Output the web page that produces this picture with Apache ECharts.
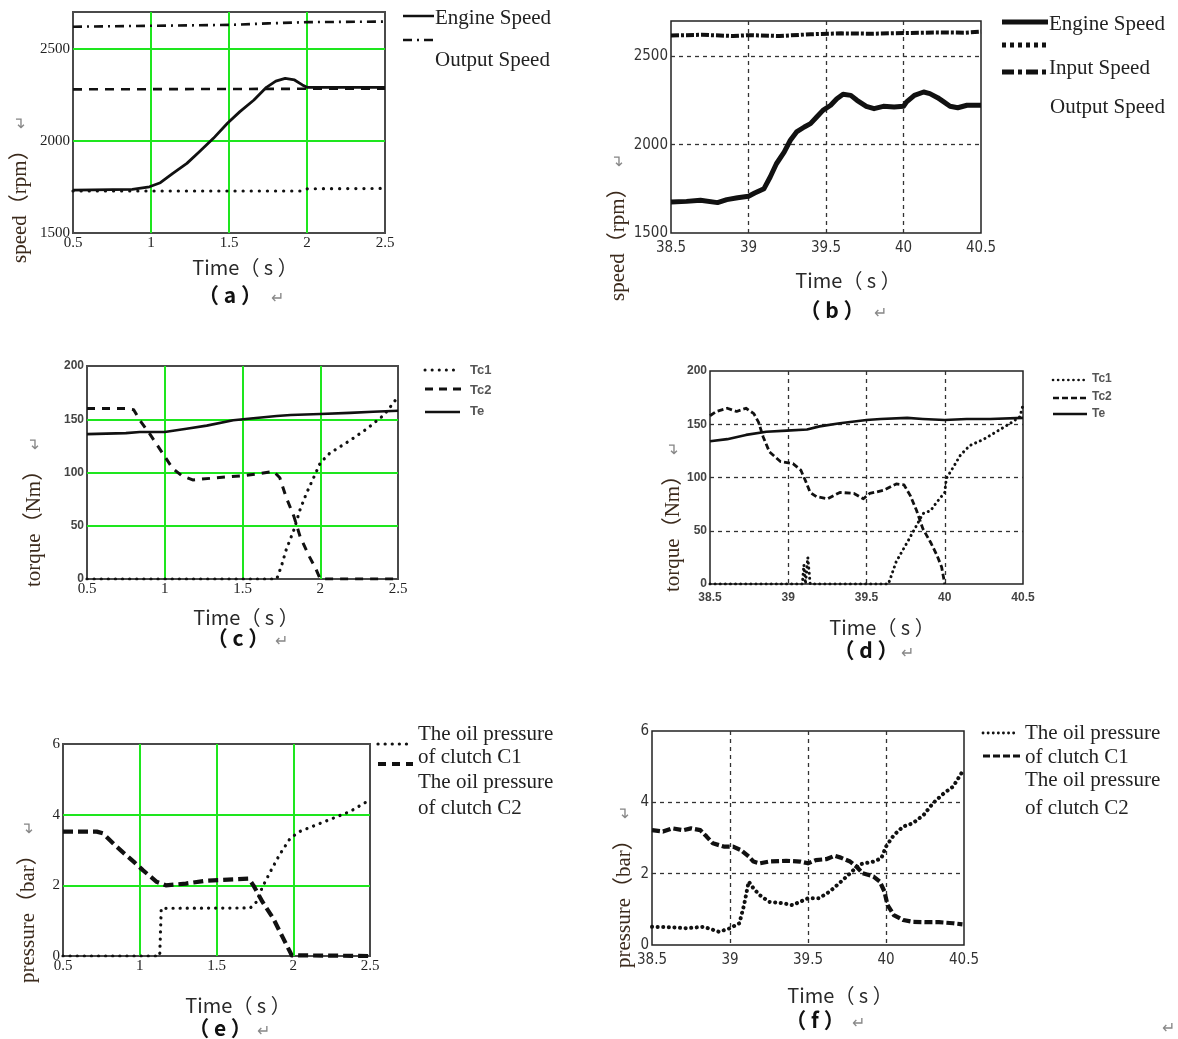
<!DOCTYPE html>
<html>
<head>
<meta charset="utf-8">
<title>shift curves</title>
<script src="https://cdn.jsdelivr.net/npm/echarts@6/dist/echarts.min.js"></script>
<style>
  html, body { margin: 0; padding: 0; background: #fff; }
  #chart { width: 1178px; height: 1039px; }
</style>
</head>
<body>
<div id="chart"></div>
<script>
// ---------- data ----------
// axis ranges
const shortTime = [0.5, 2.5];
const longTime = [38.5, 40.5];
const speedRange = [1500, 2700];
const torqueRange = [0, 200];
const pressureRange = [0, 6];

// (a) speed, simulation
const aEngine = [[0.5,1733],[0.88,1737],[0.99,1751],[1.06,1773],[1.14,1824],[1.23,1878],[1.31,1941],[1.40,2014],[1.49,2096],[1.57,2159],[1.66,2222],[1.74,2291],[1.80,2325],[1.86,2340],[1.92,2331],[1.97,2304],[2.0,2291],[2.5,2291]];
const aInput = [[0.5,2620],[1.0,2625],[1.5,2630],[1.75,2638],[2.0,2645],[2.5,2648]];
const aOutput = [[0.5,2280],[2.5,2284]];
const aDotted = [[0.5,1728],[1.98,1728],[2.0,1740],[2.5,1742]];

// (b) speed, test
const bEngine = [[38.5,1675],[38.6,1679],[38.69,1685],[38.8,1672],[38.86,1689],[38.93,1700],[39.0,1708],[39.04,1726],[39.1,1751],[39.14,1817],[39.18,1892],[39.23,1958],[39.27,2025],[39.31,2072],[39.36,2100],[39.4,2119],[39.44,2157],[39.48,2194],[39.53,2223],[39.57,2260],[39.61,2285],[39.66,2279],[39.7,2251],[39.76,2217],[39.81,2204],[39.87,2217],[39.94,2213],[40.0,2217],[40.02,2242],[40.07,2279],[40.13,2298],[40.17,2289],[40.22,2266],[40.26,2242],[40.3,2217],[40.35,2209],[40.41,2223],[40.5,2223]];
const bInput = [[38.5,2618],[38.7,2622],[38.9,2615],[39.0,2620],[39.2,2615],[39.4,2625],[39.6,2630],[39.8,2628],[40.0,2632],[40.2,2635],[40.4,2634],[40.5,2640]];

// (c) torque, simulation
const cTe = [[0.5,136],[0.75,137],[0.84,138],[1.0,138],[1.14,141],[1.27,144],[1.44,149],[1.57,151],[1.72,153],[1.81,154],[2.0,155],[2.19,156],[2.34,157],[2.5,158]];
const cTc2 = [[0.5,160],[0.75,160],[0.8,159],[0.84,149],[0.9,137],[0.95,126],[1.0,115],[1.05,104],[1.11,97],[1.18,93],[1.33,95],[1.5,97],[1.61,99],[1.7,101],[1.74,95],[1.78,77],[1.83,59],[1.87,40],[1.93,21],[1.97,10],[2.0,0],[2.5,0]];
const cTc1 = [[0.5,0],[1.72,0],[1.75,12],[1.78,27],[1.83,46],[1.87,65],[1.91,80],[1.96,96],[2.0,109],[2.06,118],[2.19,130],[2.3,141],[2.41,154],[2.5,171]];

// (d) torque, test
const dTe = [[38.5,134],[38.61,136],[38.73,140],[38.86,143],[38.99,144],[39.12,145],[39.2,148],[39.33,151],[39.5,154],[39.59,155],[39.76,156],[39.86,155],[40.0,154],[40.14,155],[40.29,155],[40.5,156]];
const dTc2 = [[38.5,158],[38.54,162],[38.61,165],[38.67,162],[38.73,165],[38.78,160],[38.81,152],[38.84,138],[38.88,124],[38.95,115],[39.03,113],[39.08,107],[39.11,97],[39.14,86],[39.18,82],[39.25,80],[39.33,86],[39.42,85],[39.48,80],[39.52,85],[39.61,88],[39.69,94],[39.74,93],[39.78,83],[39.82,69],[39.86,52],[39.91,39],[39.95,27],[39.98,16],[40.0,0]];
const dTc1 = [[38.5,0],[39.09,0],[39.1,18],[39.11,0],[39.125,25],[39.14,0],[39.64,0],[39.69,21],[39.76,39],[39.82,55],[39.86,66],[39.91,69],[39.95,77],[40.0,86],[40.01,99],[40.06,111],[40.1,121],[40.16,130],[40.25,136],[40.33,143],[40.42,151],[40.48,157],[40.5,168]];

// (e) clutch pressure, simulation
const eC1 = [[0.5,0],[1.13,0],[1.14,1.35],[1.72,1.36],[1.76,1.53],[1.8,1.96],[1.85,2.38],[1.91,2.86],[1.98,3.33],[2.04,3.52],[2.15,3.71],[2.26,3.9],[2.37,4.09],[2.5,4.42]];
const eC2 = [[0.5,3.52],[0.72,3.52],[0.76,3.47],[0.85,3.09],[0.96,2.67],[1.02,2.43],[1.11,2.1],[1.17,2.0],[1.3,2.05],[1.43,2.13],[1.61,2.17],[1.71,2.19],[1.74,2.0],[1.8,1.53],[1.87,1.06],[1.93,0.54],[1.98,0.11],[1.99,0.02],[2.5,0]];

// (f) clutch pressure, test
const fC1 = [[38.5,0.51],[38.61,0.5],[38.72,0.47],[38.83,0.51],[38.93,0.37],[39.0,0.47],[39.06,0.61],[39.09,1.12],[39.12,1.78],[39.15,1.59],[39.19,1.4],[39.25,1.21],[39.34,1.17],[39.4,1.12],[39.5,1.31],[39.57,1.31],[39.64,1.5],[39.7,1.73],[39.77,2.01],[39.83,2.26],[39.92,2.34],[39.97,2.43],[40.0,2.76],[40.05,3.08],[40.11,3.32],[40.17,3.41],[40.24,3.64],[40.3,3.97],[40.37,4.25],[40.43,4.44],[40.49,4.86]];
const fC2 = [[38.5,3.22],[38.57,3.18],[38.63,3.27],[38.7,3.22],[38.75,3.27],[38.81,3.22],[38.85,3.04],[38.89,2.85],[38.96,2.76],[39.02,2.76],[39.07,2.66],[39.12,2.48],[39.15,2.34],[39.19,2.29],[39.25,2.34],[39.36,2.36],[39.45,2.34],[39.5,2.29],[39.55,2.38],[39.62,2.41],[39.67,2.5],[39.71,2.45],[39.77,2.34],[39.81,2.2],[39.85,2.01],[39.92,1.92],[39.96,1.78],[39.99,1.5],[40.01,1.12],[40.05,0.84],[40.11,0.7],[40.17,0.65],[40.26,0.64],[40.34,0.64],[40.43,0.61],[40.49,0.58]];

// ---------- styling ----------
const INK = '#111';
const SERIF = "'Liberation Serif', 'Noto Sans CJK SC', serif";
const CJK = "'Noto Sans CJK SC', sans-serif";
const NARROW = "'Liberation Sans Narrow', 'DejaVu Sans Condensed', 'Liberation Sans', sans-serif";

const serifLabel = { fontFamily: SERIF, fontSize: 15, color: '#222' };
const narrowLabel = { fontFamily: NARROW, fontSize: 15, color: '#333' };
const smallBold = { fontFamily: "'Liberation Sans', sans-serif", fontSize: 12, fontWeight: 'bold', color: '#444' };

const panels = [
  { box: { left: 73, top: 12, width: 312, height: 221 }, x: shortTime, y: speedRange, yStep: 500, green: true, xl: serifLabel, yl: serifLabel },
  { box: { left: 671, top: 21, width: 310, height: 212 }, x: longTime, y: speedRange, yStep: 500, green: false, xl: narrowLabel, yl: narrowLabel },
  { box: { left: 87, top: 366, width: 311, height: 213 }, x: shortTime, y: torqueRange, yStep: 50, green: true, xl: serifLabel, yl: smallBold },
  { box: { left: 710, top: 371, width: 313, height: 213 }, x: longTime, y: torqueRange, yStep: 50, green: false, xl: smallBold, yl: smallBold },
  { box: { left: 63, top: 744, width: 307, height: 212 }, x: shortTime, y: pressureRange, yStep: 2, green: true, xl: serifLabel, yl: serifLabel },
  { box: { left: 652, top: 731, width: 312, height: 214 }, x: longTime, y: pressureRange, yStep: 2, green: false, xl: narrowLabel, yl: narrowLabel }
];

function gridLine(green) {
  return green
    ? { show: true, showMinLine: false, showMaxLine: false, lineStyle: { color: '#1ee61e', width: 2 } }
    : { show: true, showMinLine: false, showMaxLine: false, lineStyle: { color: '#333', width: 1.3, type: [4, 4] } };
}

const grids = panels.map(p => Object.assign({
  show: true, backgroundColor: '#fff',
  borderColor: p.green ? '#4a4a4a' : '#222',
  borderWidth: p.green ? 2 : 1.5
}, p.box));

const xAxes = panels.map((p, i) => ({
  type: 'value', gridIndex: i, min: p.x[0], max: p.x[1], interval: 0.5,
  axisLine: { show: false }, axisTick: { show: false },
  axisLabel: Object.assign({ margin: p.green ? 3 : 8 }, p.xl),
  splitLine: gridLine(p.green)
}));

const yAxes = panels.map((p, i) => ({
  type: 'value', gridIndex: i, min: p.y[0], max: p.y[1], interval: p.yStep,
  axisLine: { show: false }, axisTick: { show: false },
  axisLabel: Object.assign({
    margin: 3,
    formatter: v => (v % p.yStep === 0 ? String(v) : '')
  }, p.yl),
  splitLine: gridLine(p.green)
}));

function line(i, data, width, dash, cap) {
  return {
    type: 'line', xAxisIndex: i, yAxisIndex: i, data: data,
    showSymbol: false, silent: true, animation: false, z: 3,
    lineStyle: { color: INK, width: width, type: dash || 'solid', cap: cap || 'butt', join: 'round' }
  };
}

const DOT = (gap) => [0.1, gap];

const series = [
  line(0, aInput, 2.6, [9, 5, 2, 5]),
  line(0, aOutput, 2.6, [9, 7]),
  line(0, aDotted, 3.2, DOT(8), 'round'),
  line(0, aEngine, 2.8),

  line(1, bInput, 4, [8, 2, 3, 2]),
  line(1, bEngine, 5),

  line(2, cTe, 2.6),
  line(2, cTc2, 3, [8, 7]),
  line(2, cTc1, 3.2, DOT(7), 'round'),

  line(3, dTe, 2.6),
  line(3, dTc2, 2.8, [6, 3]),
  line(3, dTc1, 3, DOT(5), 'round'),

  line(4, eC2, 4.2, [10, 5]),
  line(4, eC1, 3.2, DOT(7), 'round'),

  line(5, fC2, 4.2, [8, 3]),
  line(5, fC1, 4, DOT(5.5), 'round')
];

// ---------- titles, captions and hand-made legends ----------
const g = [];

function text(x, y, str, font, color, align) {
  g.push({ type: 'text', x: x, y: y, silent: true,
    style: { text: str, font: font, fill: color || '#222', align: align || 'left', verticalAlign: 'middle' } });
}
function yTitle(x, y, str) {
  g.push({ type: 'text', x: x, y: y, rotation: Math.PI / 2, silent: true,
    style: {
      text: '{m|' + str + '}   {r|↵}', align: 'left', verticalAlign: 'middle',
      rich: {
        m: { font: '21px ' + SERIF, fill: '#3b2a1c' },
        r: { font: '16px ' + CJK, fill: '#888' }
      }
    } });
}
function caption(cx, cy, tx, ty, letter, arrowX) {
  text(tx, ty, 'Time（ s ）', '20px ' + CJK, '#2a2a2a', 'center');
  text(cx, cy, '（ ' + letter + ' ）', 'bold 21px ' + CJK, '#111', 'center');
  text(arrowX, cy + 2, '↵', '16px ' + CJK, '#888', 'center');
}
function sample(x1, x2, y, width, dash, cap) {
  g.push({ type: 'line', silent: true, shape: { x1: x1, y1: y, x2: x2, y2: y },
    style: { stroke: INK, lineWidth: width, lineDash: dash || null, lineCap: cap || 'butt' } });
}

// (a)
yTitle(20, 263, 'speed（rpm）');
caption(230, 295, 245, 267, 'a', 277);
sample(403, 434, 16, 2.5);
text(435, 18, 'Engine Speed', '21px ' + SERIF);
sample(403, 434, 40, 2.5, [9, 5, 2, 5]);
text(435, 60, 'Output Speed', '21px ' + SERIF);

// (b)
yTitle(618, 301, 'speed（rpm）');
caption(832, 310, 848, 280, 'b', 880);
sample(1002, 1048, 22, 5);
text(1049, 24, 'Engine Speed', '21px ' + SERIF);
sample(1002, 1048, 45, 5, [4, 4]);
sample(1002, 1048, 72, 5, [12, 4, 4, 4]);
text(1049, 68, 'Input Speed', '21px ' + SERIF);
text(1050, 107, 'Output Speed', '21px ' + SERIF);

// (c)
yTitle(34, 587, 'torque（Nm）');
caption(238, 638, 246, 617, 'c', 281);
sample(425, 460, 370, 3, DOT(7), 'round');
text(470, 370, 'Tc1', "bold 13px 'Liberation Sans', sans-serif", '#555');
sample(425, 462, 389, 3, [8, 6]);
text(470, 390, 'Tc2', "bold 13px 'Liberation Sans', sans-serif", '#555');
sample(425, 460, 412, 2.5);
text(470, 411, 'Te', "bold 13px 'Liberation Sans', sans-serif", '#555');

// (d)
yTitle(673, 592, 'torque（Nm）');
caption(866, 650, 882, 627, 'd', 907);
sample(1053, 1087, 380, 2.6, DOT(5), 'round');
text(1092, 379, 'Tc1', "bold 12px 'Liberation Sans', sans-serif", '#555');
sample(1053, 1087, 398, 2.6, [6, 3]);
text(1092, 397, 'Tc2', "bold 12px 'Liberation Sans', sans-serif", '#555');
sample(1053, 1087, 414, 2.5);
text(1092, 414, 'Te', "bold 12px 'Liberation Sans', sans-serif", '#555');

// (e)
yTitle(28, 983, 'pressure（bar）');
caption(220, 1028, 238, 1005, 'e', 263);
sample(378, 410, 744, 3.2, DOT(7), 'round');
text(418, 734, 'The oil pressure', '21px ' + SERIF);
text(418, 757, 'of clutch C1', '21px ' + SERIF);
sample(378, 413, 764, 3.8, [8, 6]);
text(418, 782, 'The oil pressure', '21px ' + SERIF);
text(418, 808, 'of clutch C2', '21px ' + SERIF);

// (f)
yTitle(624, 968, 'pressure（bar）');
caption(815, 1020, 840, 995, 'f', 858);
sample(983, 1018, 733, 2.8, DOT(5), 'round');
text(1025, 733, 'The oil pressure', '21px ' + SERIF);
sample(983, 1022, 756, 3.2, [7, 3]);
text(1025, 757, 'of clutch C1', '21px ' + SERIF);
text(1025, 780, 'The oil pressure', '21px ' + SERIF);
text(1025, 808, 'of clutch C2', '21px ' + SERIF);

text(1168, 1027, '↵', '16px ' + CJK, '#888', 'center');

const chart = echarts.init(document.getElementById('chart'), null, { renderer: 'canvas' });
chart.setOption({
  backgroundColor: '#fff',
  animation: false,
  grid: grids,
  xAxis: xAxes,
  yAxis: yAxes,
  series: series,
  graphic: g
});
</script>
</body>
</html>
